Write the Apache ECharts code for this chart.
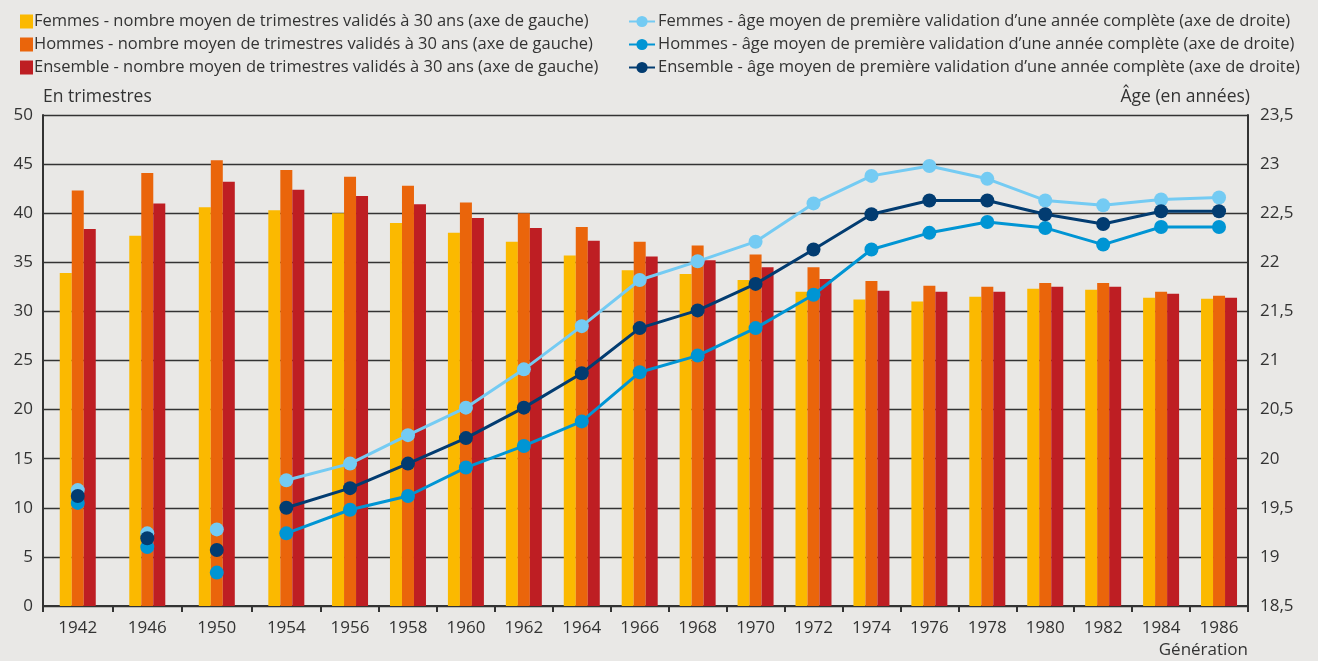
<!DOCTYPE html>
<html><head><meta charset="utf-8">
<script src="https://cdn.jsdelivr.net/npm/echarts@6/dist/echarts.min.js"></script>
<style>html,body{margin:0;padding:0;background:#E9E8E6;}#c{width:1318px;height:661px;}</style>
</head><body><div id="c"></div>
<script>
const generations = ['1942','1946','1950','1954','1956','1958','1960','1962','1964','1966','1968','1970','1972','1974','1976','1978','1980','1982','1984','1986'];
const femmesTrim = [33.9,37.7,40.6,40.3,40.0,39.0,38.0,37.1,35.7,34.2,33.8,33.2,32.0,31.2,31.0,31.5,32.3,32.2,31.4,31.3];
const hommesTrim = [42.3,44.1,45.4,44.4,43.7,42.8,41.1,40.0,38.6,37.1,36.7,35.8,34.5,33.1,32.6,32.5,32.9,32.9,32.0,31.6];
const ensembleTrim = [38.4,41.0,43.2,42.4,41.75,40.9,39.5,38.5,37.2,35.6,35.2,34.5,33.3,32.1,32.0,32.0,32.5,32.5,31.8,31.4];
const femmesAge = [19.68,19.24,19.28,19.78,19.95,20.24,20.52,20.91,21.35,21.82,22.01,22.21,22.60,22.88,22.98,22.85,22.63,22.58,22.64,22.66];
const hommesAge = [19.55,19.10,18.84,19.24,19.48,19.62,19.91,20.13,20.38,20.88,21.05,21.33,21.67,22.13,22.30,22.41,22.35,22.18,22.36,22.36];
const ensembleAge = [19.62,19.19,19.07,19.50,19.70,19.95,20.21,20.52,20.87,21.33,21.51,21.78,22.13,22.49,22.63,22.63,22.49,22.39,22.52,22.52];
const leftTicks = [0,5,10,15,20,25,30,35,40,45,50];
const rightTicks = [18.5,19,19.5,20,20.5,21,21.5,22,22.5,23,23.5];

const names = {
  fT:'Femmes - nombre moyen de trimestres validés à 30 ans (axe de gauche)',
  hT:'Hommes - nombre moyen de trimestres validés à 30 ans (axe de gauche)',
  eT:'Ensemble - nombre moyen de trimestres validés à 30 ans (axe de gauche)',
  fA:'Femmes - âge moyen de première validation d\u2019une année complète (axe de droite)',
  hA:'Hommes - âge moyen de première validation d\u2019une année complète (axe de droite)',
  eA:'Ensemble - âge moyen de première validation d\u2019une année complète (axe de droite)'
};
// band layout: first 4 generations (every 4 years) are wider bands than the later ones
const nWide = 4, wWide = 6, wNarrow = 5;
function bandStart(i){ return i < nWide ? i*wWide : nWide*wWide + (i-nWide)*wNarrow; }
function bandW(i){ return i < nWide ? wWide : wNarrow; }
function center(i){ return bandStart(i) + bandW(i)/2; }
const xMax = bandStart(generations.length);
const boundaries = generations.map((g,i)=>bandStart(i)).concat([xMax]);
const centers = generations.map((g,i)=>center(i));

const C = {f:'#FBB900', h:'#EA650B', e:'#BE1E23', lf:'#74CBF3', lh:'#0095D4', le:'#023C71'};
const font = 'Open Sans';
const txt = '#333333';

function barSeries(name, arr, color){
  return {name, type:'bar', xAxisIndex:0, yAxisIndex:0, barWidth:12, barGap:'0%',
    itemStyle:{color}, data: arr.map((v,i)=>[center(i), v]), z:2};
}
function lineSeries(name, arr, color){
  return {name, type:'line', xAxisIndex:0, yAxisIndex:1, symbol:'circle', symbolSize:14,
    lineStyle:{color, width:3}, itemStyle:{color}, z:5,
    data: arr.map((v,i)=> i>=3 ? [center(i), v] : null).filter(d=>d)};
}
function pointSeries(name, arr, color){
  return {name, type:'scatter', xAxisIndex:0, yAxisIndex:1, symbol:'circle', symbolSize:14,
    itemStyle:{color, opacity:1}, z:5,
    data: arr.map((v,i)=> i<3 ? [center(i), v] : null).filter(d=>d)};
}

const chart = echarts.init(document.getElementById('c'), null, {renderer:'canvas'});
chart.setOption({
  backgroundColor:'#E9E8E6',
  animation:false,
  textStyle:{fontFamily:font},
  legend:[
    {orient:'vertical', left:15, top:8, itemGap:6, itemWidth:13, itemHeight:14,
     icon:'rect', textStyle:{fontSize:16.5, color:txt, fontFamily:font, padding:[0,0,0,-4]},
     data:[names.fT, names.hT, names.eT]},
    {orient:'vertical', left:623, top:8, itemGap:6, itemWidth:26, itemHeight:14,
     textStyle:{fontSize:16.5, color:txt, fontFamily:font, padding:[0,0,0,-2]},
     data:[names.fA, names.hA, names.eA]}
  ],
  grid:{left:43, right:70, top:115, bottom:55},
  xAxis:{type:'value', min:0, max:xMax,
    axisLine:{show:true, lineStyle:{color:'#333', width:2}},
    axisTick:{show:true, customValues:boundaries, length:6, lineStyle:{color:'#333', width:2}},
    axisLabel:{show:true, customValues:centers, margin:14, fontSize:17, color:txt, fontFamily:font,
      formatter:(v)=>{ const i = centers.findIndex(c=>Math.abs(c-v)<1e-6); return i>=0 ? generations[i] : ''; }},
    splitLine:{show:false},
    name:'Génération', nameLocation:'end', nameGap:0,
    nameTextStyle:{fontSize:17, color:txt, align:'right', verticalAlign:'top', padding:[36,0,0,0], fontFamily:font}
  },
  yAxis:[
    {type:'value', min:leftTicks[0], max:leftTicks[leftTicks.length-1], interval:5, position:'left',
     axisLine:{show:true, lineStyle:{color:'#333', width:2}}, axisTick:{show:false},
     axisLabel:{fontSize:17, color:txt, margin:10, fontFamily:font},
     splitLine:{show:true, lineStyle:{color:'#333', width:1.3}},
     name:'En trimestres', nameLocation:'end', nameGap:9,
     nameTextStyle:{fontSize:17.5, color:txt, align:'left', padding:[0,0,0,0], fontFamily:font}},
    {type:'value', min:rightTicks[0], max:rightTicks[rightTicks.length-1], interval:0.5, position:'right',
     axisLine:{show:true, lineStyle:{color:'#333', width:2}}, axisTick:{show:false},
     axisLabel:{fontSize:17, color:txt, margin:12, fontFamily:font,
       formatter:(v)=>String(+v.toFixed(1)).replace('.', ',')},
     splitLine:{show:false},
     name:'Âge (en années)', nameLocation:'end', nameGap:9,
     nameTextStyle:{fontSize:17.5, color:txt, align:'right', padding:[0,-2,0,0], fontFamily:font}}
  ],
  series:[
    barSeries(names.fT, femmesTrim, C.f),
    barSeries(names.hT, hommesTrim, C.h),
    barSeries(names.eT, ensembleTrim, C.e),
    lineSeries(names.fA, femmesAge, C.lf),
    lineSeries(names.hA, hommesAge, C.lh),
    lineSeries(names.eA, ensembleAge, C.le),
    pointSeries(names.fA, femmesAge, C.lf),
    pointSeries(names.hA, hommesAge, C.lh),
    pointSeries(names.eA, ensembleAge, C.le)
  ]
});
</script></body></html>
